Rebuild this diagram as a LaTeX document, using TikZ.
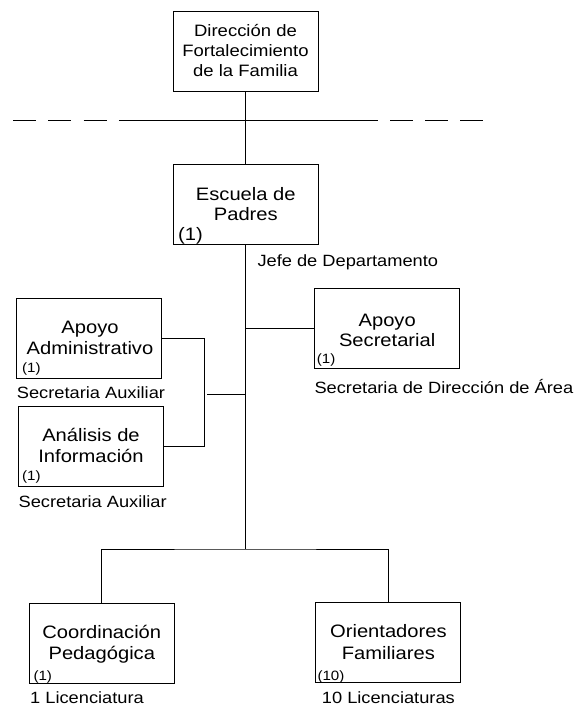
\documentclass[tikz,border=0pt]{standalone}
\usepackage{fontspec}
\setmainfont[FakeStretch=1.12]{Liberation Sans}
\begin{document}
\begin{tikzpicture}[x=1pt,y=-1pt,
  box/.style={draw, line width=1pt, minimum width=145pt, minimum height=80pt, inner sep=0pt, outer sep=0pt},
  ln/.style={anchor=base, inner sep=0pt, font=\fontsize{18}{20}\selectfont},
  lntop/.style={anchor=base, inner sep=0pt, font=\fontsize{16.5}{20}\selectfont},
  lbl/.style={anchor=base west, inner sep=0pt, font=\fontsize{16.3}{19}\selectfont},
  cnt/.style={anchor=base west, inner sep=0pt, font=\fontsize{13.5}{15}\selectfont},
  wire/.style={line width=0.9pt}]
\useasboundingbox (0,0) rectangle (575,707);
% boxes
\node[box] (dir) at (245.5,51.3) {};
\node[box] (esc) at (245.8,204) {};
\node[box] (sec) at (387.2,328.3) {};
\node[box] (adm) at (89,338.2) {};
\node[box] (ana) at (90.8,446) {};
\node[box] (coo) at (101.8,643) {};
\node[box] (ori) at (388.4,642) {};
% box texts
\node[lntop] (dir1) at (245.5,36.7) {Dirección de};
\node[lntop] (dir2) at (245.5,56.7) {Fortalecimiento};
\node[lntop] (dir3) at (245.5,76.7) {de la Familia};
\node[ln] (esc1) at (245.8,200) {Escuela de};
\node[ln] (esc2) at (245.8,220.7) {Padres};
\node[ln, anchor=base west] (escn) at (178,240) {(1)};
\node[ln] (sec1) at (387.2,326.7) {Apoyo};
\node[ln] (sec2) at (387.2,346.7) {Secretarial};
\node[ln] (adm1) at (90,333.3) {Apoyo};
\node[ln] (adm2) at (90,354) {Administrativo};
\node[ln] (ana1) at (91,441) {Análisis de};
\node[ln] (ana2) at (91,462.2) {Información};
\node[ln] (coo1) at (101.8,638.3) {Coordinación};
\node[ln] (coo2) at (101.8,659.3) {Pedagógica};
\node[ln] (ori1) at (388.4,637.5) {Orientadores};
\node[ln] (ori2) at (388.4,659.5) {Familiares};
% counts
\node[cnt] (admn) at (22,372.2) {(1)};
\node[cnt] (anan) at (22,480.5) {(1)};
\node[cnt] (secn) at (316.7,363.3) {(1)};
\node[cnt] (coon) at (33.3,680) {(1)};
\node[cnt] (orin) at (317.3,680) {(10)};
% labels
\node[lbl] (jefe) at (257.3,266) {Jefe de Departamento};
\node[lbl] (admL) at (16.7,398) {Secretaria Auxiliar};
\node[lbl] (anaL) at (18.4,507.5) {Secretaria Auxiliar};
\node[lbl] (secL) at (314.3,393) {Secretaria de Dirección de Área};
\node[lbl] (cooL) at (30,703.3) {1 Licenciatura};
\node[lbl] (oriL) at (321.7,703) {10 Licenciaturas};
% dashed line
\coordinate (dA) at (13,120.7);
\coordinate (dB) at (142,120.7);
\coordinate (sA) at (132,120.7);
\coordinate (sB) at (376,120.7);
\coordinate (dC) at (355,120.7);
\coordinate (dD) at (483,120.7);
\draw[wire, dash pattern=on 23pt off 12.3pt] (dA) -- (dB);
\draw[wire] (sA) -- (sB);
\draw[wire, dash pattern=on 23pt off 12pt] (dC) -- (dD);
% connectors
\coordinate (tb) at (245.8,549);
\draw[wire] (dir.south) -- (dir.south |- esc.north);
\draw[wire] (esc.south) -- (tb);
\draw[wire] (sec.west) -- (sec.west -| esc.south);
\coordinate (bx) at (204.5,394);
\coordinate (bm) at (207,394);
\draw[wire] (adm.east) -| (bx |- ana.east) -- (ana.east);
\draw[wire] (bm) -- (bm -| esc.south);
\draw[wire] (coo.north) |- (tb) -| (ori.north);
\end{tikzpicture}
\end{document}
